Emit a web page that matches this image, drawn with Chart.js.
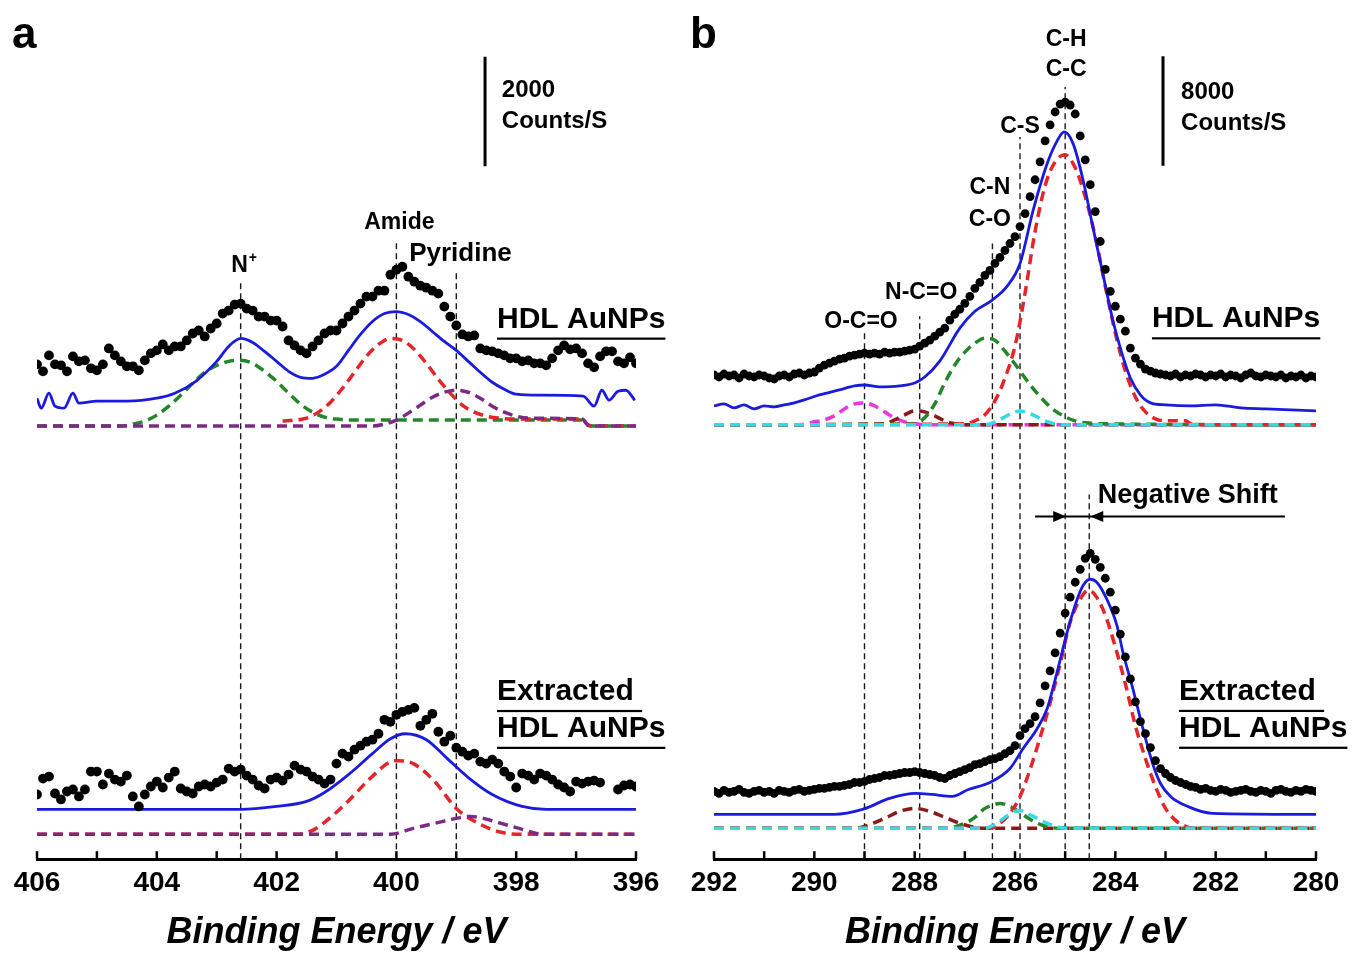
<!DOCTYPE html>
<html>
<head>
<meta charset="utf-8">
<title>XPS N 1s and C 1s</title>
<script src="https://cdn.jsdelivr.net/npm/chart.js@4.4.1/dist/chart.umd.min.js"></script>
<style>
  html, body { margin: 0; padding: 0; background: #fff; }
  #wrap { position: relative; width: 1356px; height: 956px; }
  .panel { position: absolute; top: 0; width: 678px; height: 956px; }
  #panelA { left: 0; }
  #panelB { left: 678px; }
</style>
</head>
<body>
<div id="wrap">
  <div class="panel" id="panelA"><canvas id="chartA"></canvas></div>
  <div class="panel" id="panelB"><canvas id="chartB"></canvas></div>
</div>
<script>
// ---------- panel a : N 1s (intensities in arbitrary offset units) ----------
const ticksA = [406, 405, 404, 403, 402, 401, 400, 399, 398, 397, 396];
const labelledA = [406, 404, 402, 400, 398, 396];
const dotStartA = 406, dotStepA = 0.1;   // measured points every 0.1 eV

const dotsTopA = [
  497, 490, 506, 497, 496, 490, 505, 500, 501, 493,
  491, 497, 513, 506, 500, 495, 495, 491, 501, 508,
  511, 517, 511, 515, 515, 521, 528, 531, 525, 533,
  538, 548, 551, 557, 558, 553, 551, 545, 545, 541,
  541, 535, 521, 516, 511, 508, 515, 521, 528, 531,
  531, 538, 545, 551, 558, 565, 565, 571, 571, 587,
  592, 595, 585, 580, 576, 574, 571, 568, 555, 545,
  536, 527, 525, 526, 513, 511, 510, 508, 506, 503,
  503, 500, 501, 498, 498, 496, 503, 511, 516, 512,
  513, 508, 498, 494, 505, 510, 510, 500, 498, 504,
  498
];
const dotsBottomA = [
  65, 81, 83, 66, 60, 68, 70, 63, 70, 88,
  88, 75, 86, 80, 78, 84, 63, 53, 65, 73,
  78, 72, 82, 88, 71, 68, 66, 73, 75, 73,
  77, 80, 91, 88, 90, 84, 80, 74, 71, 80,
  82, 79, 85, 94, 90, 88, 83, 80, 76, 80,
  96, 106, 103, 110, 114, 118, 120, 126, 140, 138,
  145, 148, 150, 152, 134, 140, 146, 128, 118, 124,
  112, 108, 104, 106, 98, 96, 100, 96, 88, 83,
  72, 86, 84, 80, 86, 84, 80, 75, 72, 68,
  78, 76, 78, 79, 77, null, null, 70, 74, 75,
  73
];
const fitTopA = [
  [406.0, 463], [405.93, 453], [405.8, 468], [405.7, 455], [405.55, 453], [405.4, 468], [405.3, 458],
  [405.0, 460], [404.5, 460], [404.0, 463], [403.7, 468], [403.35, 480], [403.0, 500], [402.8, 515],
  [402.6, 523], [402.4, 519], [402.2, 510], [402.0, 500], [401.8, 490], [401.6, 484], [401.4, 483],
  [401.2, 487], [401.0, 495], [400.8, 511], [400.6, 527], [400.4, 540], [400.2, 548], [400.0, 550],
  [399.8, 547], [399.6, 540], [399.4, 530], [399.2, 520], [399.0, 511], [398.8, 500], [398.6, 489],
  [398.4, 479], [398.2, 472], [398.0, 467], [397.6, 466], [396.88, 465], [396.7, 455], [396.57, 471],
  [396.45, 461], [396.3, 470], [396.17, 471], [396.02, 461]
];
const greenTopA = [
  [406.0, 435], [404.6, 435], [404.4, 437], [404.2, 440], [404.0, 446], [403.8, 455], [403.6, 466],
  [403.4, 478], [403.2, 489], [403.0, 496], [402.8, 500], [402.6, 501], [402.4, 498], [402.2, 490],
  [402.0, 480], [401.8, 468], [401.6, 457], [401.4, 449], [401.2, 444], [401.0, 442], [400.6, 441],
  [396.9, 441], [396.8, 436], [396.7, 435], [396.0, 435]
];
const redTopA = [
  [401.9, 440], [401.7, 441], [401.5, 443], [401.3, 449], [401.1, 459], [400.9, 473], [400.7, 489],
  [400.5, 505], [400.3, 517], [400.1, 523], [399.9, 521], [399.7, 512], [399.5, 498], [399.3, 482],
  [399.1, 468], [398.9, 456], [398.7, 449], [398.5, 445], [398.3, 443], [398.0, 442], [396.9, 442],
  [396.8, 436], [396.7, 435], [396.0, 435]
];
const purpleTopA = [
  [406.0, 435], [400.4, 435], [400.2, 437], [400.0, 441], [399.8, 448], [399.6, 456], [399.4, 464],
  [399.2, 469], [399.0, 471], [398.8, 469], [398.6, 463], [398.4, 455], [398.2, 449], [398.0, 445],
  [397.8, 443], [396.9, 442], [396.8, 436], [396.7, 435], [396.0, 435]
];
const fitBottomA = [
  [406.0, 50], [402.6, 50], [402.0, 53], [401.5, 58], [401.2, 67], [400.8, 85], [400.4, 106],
  [400.1, 121], [399.85, 126], [399.5, 120], [399.15, 101], [398.8, 82], [398.4, 65], [397.9, 53],
  [397.5, 50], [396.0, 50]
];
const redBottomA = [
  [406.0, 25], [401.65, 25], [401.4, 29], [401.18, 38], [400.81, 58], [400.44, 81], [400.09, 98],
  [399.97, 99], [399.72, 96], [399.36, 78], [399.0, 51], [398.6, 35], [398.25, 27], [397.9, 25],
  [396.0, 25]
];
const purpleBottomA = [
  [406.0, 25], [400.1, 25], [399.72, 31], [399.36, 36], [399.0, 41], [398.77, 43], [398.55, 41],
  [398.25, 36], [397.9, 30], [397.55, 25], [396.0, 25]
];
const markersA = [[402.6, 580], [400.0, 620], [399.0, 590]];   // [energy, top]
const scaleBarA = { x: 398.52, from: 696, to: 806 };           // 2000 counts/s

// ---------- panel b : C 1s ----------
const ticksB = [292, 291, 290, 289, 288, 287, 286, 285, 284, 283, 282, 281, 280];
const labelledB = [292, 290, 288, 286, 284, 282, 280];
const dotStartB = 292, dotStepB = 0.1;

const dotsTopB = [
  486, 484, 487, 485, 486, 483, 487, 485, 484, 486,
  485, 483, 482, 485, 486, 484, 487, 488, 486, 488,
  489, 493, 496, 498, 500, 502, 503, 505, 506, 507,
  508, 507, 508, 507, 509, 508, 509, 509, 510, 511,
  512, 515, 518, 521, 525, 529, 533, 541, 547, 552,
  558, 565, 573, 579, 586, 591, 598, 604, 611, 618,
  625, 635, 648, 665, 682, 700, 721, 737, 750, 758,
  760, 757, 748, 726, 702, 677, 650, 620, 592, 570,
  555, 542, 530, 513, 503, 497, 492, 490, 488, 487,
  486, 485, 487, 484, 486, 485, 487, 486, 484, 486,
  485, 487, 484, 486, 485, 483, 486, 488, 485, 484,
  486, 485, 484, 486, 483, 485, 484, 486, 483, 485,
  484
];
const dotsBottomB = [
  68, 66, 69, 67, 68, 70, 67, 66, 68, 69,
  67, 68, 66, 69, 68, 67, 69, 70, 68, 69,
  70, 71, 71, 72, 73, 73, 74, 75, 77, 77,
  78, 80, 81, 82, 84, 84, 85, 86, 87, 87,
  88, 87, 86, 85, 84, 82, 81, 84, 86, 88,
  90, 92, 95, 96, 98, 100, 101, 103, 106, 109,
  114, 124, 131, 136, 143, 157, 174, 189, 207, 227,
  247, 263, 278, 291, 302, 307, 301, 293, 282, 268,
  250, 226, 203, 181, 158, 138, 126, 112, 99, 91,
  86, 82, 79, 77, 75, 73, 72, 70, 71, 69,
  68, 70, 69, 67, 68, 69, 70, 68, 67, 69,
  68, 66, 69, 70, 68, 67, 69, 68, 70, 69,
  68
];
const fitTopB = [
  [292.0, 455], [291.8, 457], [291.6, 453], [291.4, 456], [291.2, 452], [291.0, 455], [290.8, 454],
  [290.6, 456], [290.4, 458], [290.2, 461], [289.9, 466], [289.5, 471], [289.2, 475], [289.0, 476],
  [288.7, 474], [288.3, 475], [288.0, 478], [287.8, 484], [287.5, 500], [287.1, 533], [286.8, 550],
  [286.46, 561], [286.16, 575], [285.9, 598], [285.64, 651], [285.36, 698], [285.16, 721],
  [285.02, 730], [284.84, 718], [284.64, 681], [284.45, 635], [284.25, 588], [284.05, 541],
  [283.87, 508], [283.7, 483], [283.5, 466], [283.3, 458], [283.0, 456], [282.5, 455], [282.0, 456],
  [281.5, 453], [281.0, 452], [280.5, 451], [280.0, 450]
];
const cyanTopB = [
  [292.0, 436], [286.6, 436], [286.4, 439], [286.2, 444], [286.0, 449], [285.9, 450], [285.8, 449],
  [285.6, 445], [285.4, 440], [285.2, 437], [285.0, 436], [280.0, 436]
];
const magentaTopB = [
  [292.0, 436], [290.3, 436], [290.0, 439], [289.8, 441], [289.6, 445], [289.4, 452], [289.2, 457],
  [289.0, 458], [288.8, 455], [288.6, 449], [288.4, 443], [288.2, 439], [288.0, 437], [287.8, 436],
  [280.0, 436]
];
const darkRedTopB = [
  [292.0, 436], [288.6, 437], [288.4, 441], [288.2, 446], [288.0, 450], [287.9, 450], [287.8, 449],
  [287.6, 445], [287.4, 440], [287.2, 437], [287.0, 436], [280.0, 436]
];
const greenTopB = [
  [292.0, 436], [288.0, 437], [287.8, 443], [287.6, 457], [287.4, 478], [287.2, 496], [287.0, 509],
  [286.8, 518], [286.6, 523], [286.4, 521], [286.2, 510], [286.0, 497], [285.8, 483], [285.6, 470],
  [285.4, 459], [285.2, 450], [285.0, 444], [284.8, 440], [284.6, 438], [284.2, 437], [280.0, 436]
];
const redTopB = [
  [292.0, 436], [287.0, 437], [286.8, 440], [286.6, 446], [286.4, 460], [286.2, 483], [286.0, 515],
  [285.8, 568], [285.6, 630], [285.4, 676], [285.2, 700], [285.0, 707], [284.8, 694], [284.6, 665],
  [284.4, 625], [284.2, 575], [284.0, 528], [283.8, 490], [283.6, 464], [283.4, 449], [283.2, 442],
  [283.0, 440], [282.6, 440], [282.5, 437], [282.4, 436], [280.0, 436]
];
const fitBottomB = [
  [292.0, 45], [289.6, 45], [289.04, 50], [288.5, 61], [287.98, 66], [287.66, 65], [287.25, 63],
  [286.93, 70], [286.5, 77], [286.1, 91], [285.84, 111], [285.56, 131], [285.36, 151],
  [285.16, 188], [284.96, 228], [284.76, 261], [284.64, 275], [284.5, 281], [284.37, 278],
  [284.17, 261], [283.97, 235], [283.85, 208], [283.65, 171], [283.45, 131], [283.25, 95],
  [283.1, 76], [282.9, 63], [282.56, 53], [282.07, 46], [280.0, 45]
];
const cyanBottomB = [
  [292.0, 31], [286.6, 31], [286.4, 35], [286.2, 42], [286.0, 48], [285.9, 49], [285.8, 47],
  [285.6, 42], [285.4, 37], [285.2, 33], [285.0, 31], [280.0, 31]
];
const darkRedBottomB = [
  [292.0, 31], [289.2, 31], [289.0, 33], [288.6, 41], [288.3, 48], [288.0, 51], [287.7, 48],
  [287.4, 42], [287.1, 36], [286.8, 32], [286.6, 31], [280.0, 31]
];
const greenBottomB = [
  [292.0, 31], [287.4, 31], [287.0, 36], [286.8, 42], [286.6, 51], [286.4, 55], [286.3, 56],
  [286.1, 53], [285.9, 47], [285.7, 40], [285.5, 35], [285.3, 32], [285.1, 31], [280.0, 31]
];
const redBottomB = [
  [292.0, 31], [286.5, 31], [286.3, 36], [286.1, 46], [285.9, 63], [285.7, 90], [285.5, 122],
  [285.3, 157], [285.1, 196], [284.9, 238], [284.7, 261], [284.54, 270], [284.4, 265],
  [284.2, 245], [284.0, 213], [283.8, 176], [283.6, 134], [283.4, 101], [283.2, 73], [283.0, 51],
  [282.8, 39], [282.6, 33], [282.4, 31], [280.0, 31]
];
const markersB = [[289.0, 528], [287.9, 545], [286.45, 618], [285.9, 725], [285.0, 775], [284.52, 366]];
const scaleBarB = { x: 283.05, from: 696, to: 806 };         // 8000 counts/s

// ---------- styles ----------
const FONT = "'Liberation Sans', Arial, Helvetica, sans-serif";
const BLUE = '#1b1be0';
const RED = '#e4262a';
const GREEN = '#23872a';
const PURPLE = '#7d2a86';
const MAGENTA = '#e838de';
const DARKRED = '#8c1a1a';
const CYAN = '#35dbe3';

Chart.defaults.font.family = FONT;

function toPoints(values, start, step) {
  const pts = [];
  values.forEach((v, i) => {
    if (v !== null) pts.push({ x: +(start - i * step).toFixed(2), y: v });
  });
  return pts;
}
const pairs = (arr) => arr.map(([x, y]) => ({ x, y }));

function dots(values, start, step, r) {
  return { data: toPoints(values, start, step), showLine: false, pointRadius: r,
           pointBackgroundColor: '#000', pointBorderWidth: 0, pointHoverRadius: 0 };
}
function fit(arr) {
  return { data: pairs(arr), borderColor: BLUE, borderWidth: 2.8, pointRadius: 0,
           cubicInterpolationMode: 'monotone', fill: false };
}
function comp(arr, color) {
  return { data: pairs(arr), borderColor: color, borderWidth: 3.5, borderDash: [10, 6],
           pointRadius: 0, cubicInterpolationMode: 'monotone', fill: false };
}
function marker([x, top]) {
  return { data: [{ x, y: 0 }, { x, y: top }], borderColor: '#1a1a1a', borderWidth: 1.4,
           borderDash: [6, 4], pointRadius: 0 };
}
function bar(b) {
  return { data: [{ x: b.x, y: b.from }, { x: b.x, y: b.to }], borderColor: '#000',
           borderWidth: 3, pointRadius: 0 };
}

// labels, underlines, arrows and inward tick marks
const annotate = {
  id: 'annotate',
  afterDraw(chart, args, opts) {
    const { ctx, chartArea } = chart;
    const sx = chart.scales.x, sy = chart.scales.y;
    ctx.save();
    ctx.strokeStyle = '#000';
    ctx.fillStyle = '#000';
    ctx.lineWidth = 2.5;
    sx.ticks.forEach(t => {
      const px = sx.getPixelForValue(t.value);
      ctx.beginPath();
      ctx.moveTo(px, chartArea.bottom);
      ctx.lineTo(px, chartArea.bottom - 8);
      ctx.stroke();
    });

    ctx.textBaseline = 'middle';
    ctx.textAlign = 'left';
    opts.labels.forEach(l => {
      ctx.font = `bold ${l.size}px ${FONT}`;
      const w = ctx.measureText(l.text).width;
      const px = sx.getPixelForValue(l.x), py = sy.getPixelForValue(l.y);
      const left = l.align === 'left' ? px : px - w / 2;
      ctx.fillText(l.text, left, py);
      if (l.sup) {
        ctx.font = `bold ${Math.round(l.size * 0.6)}px ${FONT}`;
        ctx.fillText(l.sup, left + w + 1, py - l.size * 0.35);
      }
      if (l.underline) ctx.fillRect(left, py + l.size * 0.6, w, 2.2);
    });

    (opts.arrows || []).forEach(a => {
      const py = sy.getPixelForValue(a.y);
      ctx.lineWidth = 2;
      ctx.beginPath();
      ctx.moveTo(sx.getPixelForValue(a.from), py);
      ctx.lineTo(sx.getPixelForValue(a.to), py);
      ctx.stroke();
      a.heads.forEach(h => {
        const tip = sx.getPixelForValue(h.x);
        ctx.beginPath();
        ctx.moveTo(tip, py);
        ctx.lineTo(tip - h.dir * 13, py - 5.5);
        ctx.lineTo(tip - h.dir * 13, py + 5.5);
        ctx.closePath();
        ctx.fill();
      });
    });

    ctx.font = `bold 44px ${FONT}`;
    ctx.textBaseline = 'alphabetic';
    ctx.fillText(opts.letter, 12, 48);
    ctx.restore();
  }
};

function makeChart(id, cfg) {
  return new Chart(document.getElementById(id), {
    type: 'line',
    data: { datasets: cfg.datasets },
    options: {
      responsive: true,
      maintainAspectRatio: false,
      animation: false,
      events: [],
      layout: { padding: cfg.padding },
      plugins: { legend: { display: false }, tooltip: { enabled: false }, annotate: cfg.annotate },
      scales: {
        x: {
          type: 'linear', reverse: true, min: cfg.min, max: cfg.max,
          afterBuildTicks: (axis) => { axis.ticks = cfg.ticks.map(v => ({ value: v })); },
          ticks: {
            autoSkip: false, maxRotation: 0, padding: 7, color: '#000',
            font: { size: 28, weight: 'bold' },
            callback: (v) => cfg.labelled.includes(v) ? String(v) : ''
          },
          grid: { display: false, drawTicks: false },
          border: { display: true, color: '#000', width: 3 },
          title: {
            display: true, text: 'Binding Energy / eV', color: '#000',
            font: { size: 36, weight: 'bold', style: 'italic' }, padding: { top: 5, bottom: 0 }
          }
        },
        y: { type: 'linear', display: false, min: 0, max: 858 }
      }
    },
    plugins: [annotate]
  });
}

makeChart('chartA', {
  min: 396, max: 406, ticks: ticksA, labelled: labelledA,
  padding: { left: 37, right: 42, top: 0, bottom: 1 },
  datasets: [
    dots(dotsTopA, dotStartA, dotStepA, 4.9),
    dots(dotsBottomA, dotStartA, dotStepA, 4.9),
    fit(fitTopA),
    fit(fitBottomA),
    comp(purpleTopA, PURPLE),
    comp(redTopA, RED),
    comp(greenTopA, GREEN),
    comp(purpleBottomA, PURPLE),
    comp(redBottomA, RED),
    bar(scaleBarA),
    ...markersA.map(marker)
  ],
  annotate: {
    letter: 'a',
    labels: [
      { text: 'N', sup: '+', x: 402.62, y: 596, size: 23 },
      { text: 'Amide', x: 399.95, y: 639, size: 23 },
      { text: 'Pyridine', x: 398.93, y: 608, size: 26 },
      { text: '2000', x: 398.24, y: 772, size: 24, align: 'left' },
      { text: 'Counts/S', x: 398.24, y: 741, size: 24, align: 'left' },
      { text: 'HDL AuNPs', x: 398.32, y: 542, size: 30, align: 'left', underline: true },
      { text: 'Extracted ', x: 398.32, y: 168, size: 30, align: 'left', underline: true },
      { text: 'HDL AuNPs', x: 398.32, y: 131, size: 30, align: 'left', underline: true }
    ]
  }
});

makeChart('chartB', {
  min: 280, max: 292, ticks: ticksB, labelled: labelledB,
  padding: { left: 36, right: 40, top: 0, bottom: 1 },
  datasets: [
    dots(dotsTopB, dotStartB, dotStepB, 4.4),
    dots(dotsBottomB, dotStartB, dotStepB, 4.4),
    fit(fitTopB),
    fit(fitBottomB),
    comp(cyanTopB, CYAN),
    comp(redTopB, RED),
    comp(greenTopB, GREEN),
    comp(darkRedTopB, DARKRED),
    comp(magentaTopB, MAGENTA),
    comp(cyanBottomB, CYAN),
    comp(redBottomB, RED),
    comp(greenBottomB, GREEN),
    comp(darkRedBottomB, DARKRED),
    bar(scaleBarB),
    ...markersB.map(marker)
  ],
  annotate: {
    letter: 'b',
    labels: [
      { text: 'C-H', x: 284.98, y: 823, size: 23 },
      { text: 'C-C', x: 284.98, y: 792, size: 23 },
      { text: 'C-S', x: 285.9, y: 735, size: 23 },
      { text: 'C-N', x: 286.5, y: 674, size: 23 },
      { text: 'C-O', x: 286.5, y: 642, size: 23 },
      { text: 'N-C=O', x: 287.87, y: 569, size: 23 },
      { text: 'O-C=O', x: 289.07, y: 540, size: 23 },
      { text: '8000', x: 282.69, y: 770, size: 24, align: 'left' },
      { text: 'Counts/S', x: 282.69, y: 739, size: 24, align: 'left' },
      { text: 'HDL AuNPs', x: 283.27, y: 542, size: 30, align: 'left', underline: true },
      { text: 'Extracted ', x: 282.73, y: 168, size: 30, align: 'left', underline: true },
      { text: 'HDL AuNPs', x: 282.73, y: 131, size: 30, align: 'left', underline: true },
      { text: 'Negative Shift', x: 284.35, y: 365, size: 27, align: 'left' }
    ],
    arrows: [
      { from: 285.6, to: 280.62, y: 344, heads: [{ x: 284.98, dir: 1 }, { x: 284.5, dir: -1 }] }
    ]
  }
});
</script>
</body>
</html>
